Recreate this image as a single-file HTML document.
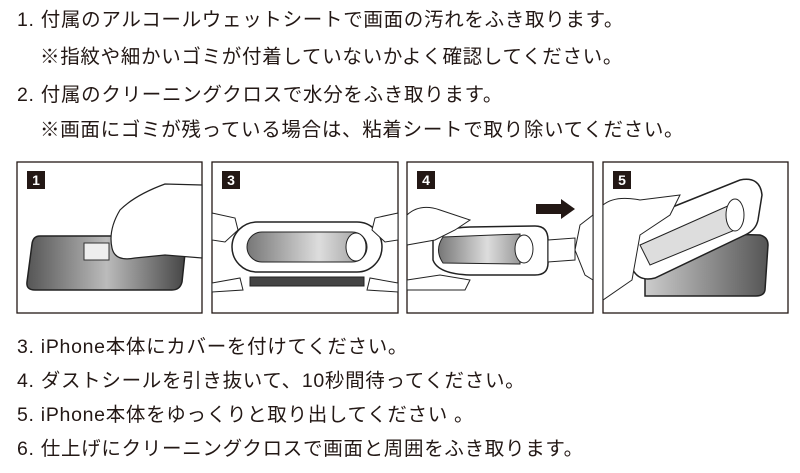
<!DOCTYPE html>
<html><head><meta charset="utf-8"><style>
body{margin:0;width:800px;height:473px;background:#fff;position:relative;overflow:hidden;font-family:"Liberation Sans","Noto Sans CJK JP",sans-serif;color:#231815}
.t{position:absolute;font-size:19.5px;line-height:24px;white-space:nowrap;letter-spacing:0.7px}
svg{position:absolute;left:0;top:0}
</style></head><body>
<div class="t" style="left:17px;top:8px">1. 付属のアルコールウェットシートで画面の汚れをふき取ります。</div>
<div class="t" style="left:40px;top:45px">※指紋や細かいゴミが付着していないかよく確認してください。</div>
<div class="t" style="left:17px;top:83px">2. 付属のクリーニングクロスで水分をふき取ります。</div>
<div class="t" style="left:40px;top:118px">※画面にゴミが残っている場合は、粘着シートで取り除いてください。</div>
<div class="t" style="left:17px;top:335px">3. iPhone本体にカバーを付けてください。</div>
<div class="t" style="left:17px;top:369px">4. ダストシールを引き抜いて、10秒間待ってください。</div>
<div class="t" style="left:17px;top:403px">5. iPhone本体をゆっくりと取り出してください 。</div>
<div class="t" style="left:17px;top:437px">6. 仕上げにクリーニングクロスで画面と周囲をふき取ります。</div>
<svg width="800" height="473" viewBox="0 0 800 473">
<defs>
<linearGradient id="g" x1="0" x2="1"><stop offset="0" stop-color="#555"/><stop offset=".5" stop-color="#bbb"/><stop offset="1" stop-color="#444"/></linearGradient>
<linearGradient id="g3" x1="0" x2="1"><stop offset="0" stop-color="#ccc"/><stop offset="1" stop-color="#555"/></linearGradient>
<linearGradient id="g2" x1="0" x2="1"><stop offset="0" stop-color="#777"/><stop offset=".6" stop-color="#ddd"/><stop offset="1" stop-color="#999"/></linearGradient>
</defs>
<g fill="none" stroke="#231815" stroke-width="1.3">
<rect x="17" y="162" width="185" height="151"/>
<rect x="212" y="162" width="186" height="151"/>
<rect x="407" y="162" width="186" height="151"/>
<rect x="603" y="162" width="185" height="151"/>
</g>
<g fill="#231815">
<rect x="27" y="171" width="18" height="18"/><rect x="222" y="171" width="18" height="18"/>
<rect x="417" y="171" width="18" height="18"/><rect x="613" y="171" width="18" height="18"/>
</g>
<g fill="#fff" font-family="Liberation Sans" font-weight="bold" font-size="14" text-anchor="middle">
<text x="36" y="185">1</text><text x="231" y="185">3</text><text x="426" y="185">4</text><text x="622" y="185">5</text>
</g>
<!-- panel 1 -->
<path d="M40 236 L180 236 Q188 236 186 244 L182 282 Q180 290 172 290 L35 290 Q26 290 27 282 L32 244 Q33 236 40 236Z" fill="url(#g)" stroke="#222" stroke-width="1.5"/>
<rect x="84" y="243" width="25" height="17" fill="#eee" stroke="#333"/>
<path d="M202 185 L165 184 Q135 195 120 210 Q108 230 112 248 Q115 262 135 258 L165 255 L202 258Z" fill="#fff" stroke="#222" stroke-width="1.2"/>
<!-- panel 3 -->
<rect x="232" y="222" width="150" height="50" rx="25" fill="#fff" stroke="#222" stroke-width="1.5"/>
<rect x="247" y="232" width="120" height="30" rx="15" fill="url(#g2)" stroke="#222"/>
<ellipse cx="356" cy="247" rx="10" ry="14" fill="#fff" stroke="#222"/>
<rect x="250" y="277" width="114" height="9" fill="#444" stroke="#222"/>
<path d="M212 213 L235 218 L238 230 L225 242 L212 240Z" fill="#fff" stroke="#222"/>
<path d="M398 213 L375 218 L372 230 L385 242 L398 240Z" fill="#fff" stroke="#222"/>
<path d="M212 283 L240 278 L243 290 L212 292Z" fill="#fff" stroke="#222"/>
<path d="M398 283 L370 278 L367 290 L398 292Z" fill="#fff" stroke="#222"/>
<!-- panel 4 -->
<path d="M433 240 Q440 228 470 227 L535 226 Q548 226 548 240 L548 263 Q548 275 535 275 L470 275 Q438 274 433 260Z" fill="#fff" stroke="#222" stroke-width="1.5"/>
<path d="M443 237 L520 234 L520 264 L443 263 Q434 250 443 237Z" fill="url(#g2)" stroke="#222"/>
<ellipse cx="524" cy="249" rx="9" ry="14" fill="#fff" stroke="#222"/>
<path d="M548 240 L575 238 L575 260 L548 262Z" fill="#fff" stroke="#222"/>
<path d="M536 204 L561 204 L561 199 L575 209 L561 219 L561 214 L536 214Z" fill="#231815"/>
<path d="M407 215 Q420 203 440 210 L470 220 L455 230 L435 240 L407 245Z" fill="#fff" stroke="#222"/>
<path d="M593 215 L580 225 L575 250 L585 275 L593 280Z" fill="#fff" stroke="#222"/>
<path d="M407 280 L440 275 L470 280 L465 290 L407 290Z" fill="#fff" stroke="#222"/>
<!-- panel 5 -->
<path d="M645 232 L760 235 Q768 237 768 245 L765 290 Q764 296 756 296 L645 296Z" fill="url(#g3)" stroke="#222" stroke-width="1.5"/>
<path d="M630 240 Q628 225 645 218 L740 180 Q760 176 762 195 L758 220 Q756 230 745 235 L655 278 Q635 283 630 262Z" fill="#fff" stroke="#222" stroke-width="1.5"/>
<path d="M640 245 L730 205 L735 230 L650 265Z" fill="#ddd" stroke="#222"/>
<ellipse cx="735" cy="215" rx="9" ry="16" fill="#fff" stroke="#222"/>
<path d="M603 205 Q615 195 640 200 L680 195 L670 215 L640 235 L632 280 L603 300Z" fill="#fff" stroke="#222"/>
</svg>
</body></html>
